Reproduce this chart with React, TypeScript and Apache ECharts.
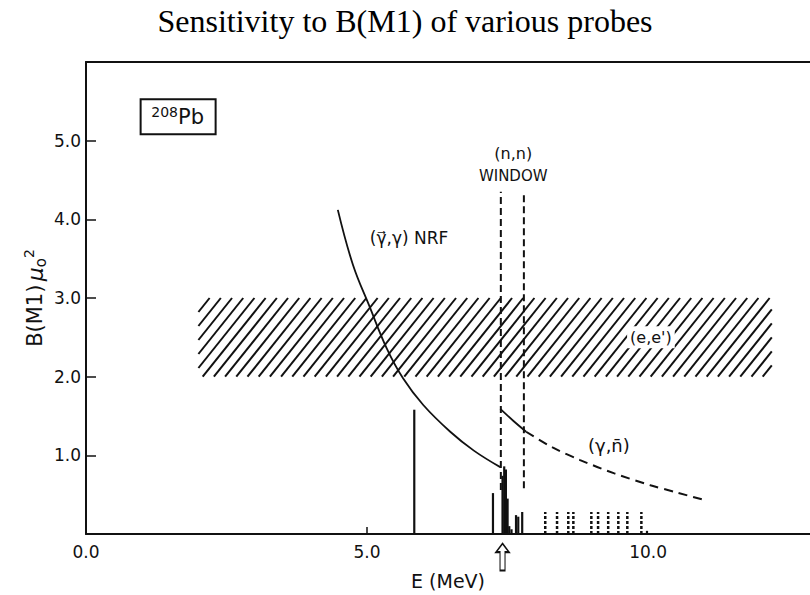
import React, { useEffect, useRef } from "react";
import * as echarts from "echarts";

// (gamma-vec, gamma) NRF sensitivity curve
const nrfEnergy = [4.48, 4.75, 5.04, 5.35, 5.64, 6.0, 6.48, 6.9, 7.37];
const nrfB = [4.12, 3.42, 2.9, 2.36, 1.98, 1.64, 1.3, 1.06, 0.85];

// (gamma, n-bar) curve: solid inside the window, dashed beyond it
const gnSolidEnergy = [7.37, 7.6, 7.83];
const gnSolidB = [1.59, 1.44, 1.3];
const gnDashEnergy = [7.83, 8.3, 8.79, 9.4, 10.04, 10.5, 11.01];
const gnDashB = [1.3, 1.1, 0.94, 0.77, 0.62, 0.53, 0.43];

// (n,n) window edges
const windowEnergy = [7.38, 7.79];
const windowTop = 4.35;
const windowBottom = [0.56, 0.58];

// (e,e') sensitivity band
const bandEnergy = [2.0, 12.2];
const bandB = [2.0, 3.0];

// observed M1 strengths (solid stems)
const stemEnergy = [5.84, 7.24, 7.41, 7.44, 7.47, 7.5, 7.53, 7.57, 7.65, 7.69, 7.76, 9.98];
const stemB = [1.58, 0.52, 0.74, 0.86, 0.82, 0.45, 0.1, 0.06, 0.24, 0.22, 0.28, 0.04];

// unresolved strengths (dashed stems)
const dashStemEnergy = [8.17, 8.38, 8.58, 8.67, 8.99, 9.11, 9.29, 9.47, 9.63, 9.88];
const dashStemB = [0.28, 0.28, 0.28, 0.28, 0.28, 0.28, 0.28, 0.28, 0.28, 0.28];

// axis ticks
const xTickLabels = [0, 5, 10];
const xTicks = [5];
const yTicks = [1, 2, 3, 4, 5];

const neutron = 7.41; // neutron separation energy marker

const INK = "#111";
const SANS = "DejaVu Sans";

const pairs = (xs: number[], ys: number[]) => xs.map((x, i) => [x, ys[i]]);

function hatchItem(params: any, api: any) {
  const pBL = api.coord([api.value(0), api.value(2)]);
  const pTR = api.coord([api.value(1), api.value(3)]);
  const xL = pBL[0];
  const xR = pTR[0];
  const yB = pBL[1];
  const yT = pTR[1];
  const h = yB - yT;
  const run = 0.8;
  const step = 11.2;
  const children: any[] = [];
  for (let c = xL - h * run; c < xR; c += step) {
    let xa = c;
    let ya = yB;
    let xb = c + h * run;
    let yb = yT;
    if (xa < xL) {
      ya = yB - (xL - c) / run;
      xa = xL;
    }
    if (xb > xR) {
      yb = yB - (xR - c) / run;
      xb = xR;
    }
    if (xb <= xa) continue;
    children.push({
      type: "line",
      shape: { x1: xa, y1: ya, x2: xb, y2: yb },
      style: { stroke: INK, lineWidth: 2 },
    });
  }
  return { type: "group", children };
}

const stemItem = (dash: number[] | null, width: number) => (params: any, api: any) => {
  const base = api.coord([api.value(0), 0]);
  const top = api.coord([api.value(0), api.value(1)]);
  return {
    type: "line",
    shape: { x1: base[0], y1: base[1], x2: top[0], y2: top[1] },
    style: { stroke: INK, lineWidth: width, lineDash: dash || undefined },
  };
};

export default function App() {
  const ref = useRef<HTMLDivElement>(null);

  useEffect(() => {
    if (!ref.current) return;
    const chart = echarts.init(ref.current, null, { renderer: "svg" });

    const axisCommon = {
      type: "value" as const,
      min: 0,
      max: 12.88,
      splitLine: { show: false },
    };

    chart.setOption({
      animation: false,
      backgroundColor: "#fff",
      title: {
        text: "Sensitivity to B(M1) of various probes",
        left: "center",
        top: 0,
        textStyle: {
          fontFamily: "Liberation Serif",
          fontSize: 32,
          fontWeight: "normal",
          color: "#000",
        },
      },
      grid: { left: 86, right: 0, top: 62, bottom: 61 },
      xAxis: [
        {
          ...axisCommon,
          position: "bottom",
          name: "E (MeV)",
          nameLocation: "middle",
          nameGap: 37,
          nameTextStyle: { fontFamily: SANS, fontSize: 19, color: INK },
          axisLine: { show: true, onZero: false, lineStyle: { color: INK, width: 2 } },
          axisTick: { show: true, inside: true, length: 7, customValues: xTicks, lineStyle: { color: INK, width: 1.5 } },
          axisLabel: {
            customValues: xTickLabels,
            formatter: (v: number) => v.toFixed(1),
            margin: 9,
            fontFamily: SANS,
            fontSize: 17,
            color: INK,
          },
        },
        {
          ...axisCommon,
          position: "top",
          axisLine: { show: true, onZero: false, lineStyle: { color: INK, width: 2 } },
          axisTick: { show: false },
          axisLabel: { show: false },
        },
      ],
      yAxis: {
        type: "value",
        min: 0,
        max: 6,
        splitLine: { show: false },
        axisLine: { show: true, onZero: false, lineStyle: { color: INK, width: 2 } },
        axisTick: { show: true, inside: true, length: 10, customValues: yTicks, lineStyle: { color: INK, width: 1.5 } },
        axisLabel: {
          customValues: yTicks,
          formatter: (v: number) => v.toFixed(1),
          margin: 5,
          fontFamily: SANS,
          fontSize: 17,
          color: INK,
        },
      },
      series: [
        {
          type: "line",
          name: "NRF",
          data: pairs(nrfEnergy, nrfB),
          smooth: 0.4,
          symbol: "none",
          z: 5,
          lineStyle: { color: INK, width: 1.8 },
        },
        {
          type: "custom",
          name: "(e,e')",
          renderItem: hatchItem,
          encode: { x: [0, 1], y: [2, 3] },
          data: [[bandEnergy[0], bandEnergy[1], bandB[0], bandB[1]]],
          z: 1,
        },
        {
          type: "line",
          name: "(γ,n) solid",
          data: pairs(gnSolidEnergy, gnSolidB),
          smooth: 0.3,
          symbol: "none",
          z: 5,
          lineStyle: { color: INK, width: 1.8 },
        },
        {
          type: "line",
          name: "(γ,n) dashed",
          data: pairs(gnDashEnergy, gnDashB),
          smooth: 0.3,
          symbol: "none",
          z: 5,
          lineStyle: { color: INK, width: 2, type: [9, 6] },
        },
        ...windowEnergy.map((e, i) => ({
          type: "line",
          name: "window " + i,
          data: [
            [e, windowBottom[i]],
            [e, windowTop],
          ],
          symbol: "none",
          z: 5,
          lineStyle: { color: INK, width: 2, type: [7, 4] },
          markPoint:
            i === 0
              ? {
                  silent: true,
                  label: { show: false },
                  data: [
                    {
                      coord: [neutron, 0],
                      symbol: "path://M6.5,0 L13,9 L9,9 L9,28 L4,28 L4,9 L0,9 Z",
                      symbolSize: [13, 27],
                      symbolOffset: [0, 23],
                      itemStyle: { color: "#fff", borderColor: INK, borderWidth: 1.5 },
                    },
                  ],
                }
              : undefined,
        })),
        {
          type: "custom",
          name: "stems",
          renderItem: stemItem(null, 2.2),
          encode: { x: 0, y: 1 },
          data: pairs(stemEnergy, stemB),
          z: 4,
        },
        {
          type: "custom",
          name: "dashed stems",
          renderItem: stemItem([3, 2], 2.5),
          encode: { x: 0, y: 1 },
          data: pairs(dashStemEnergy, dashStemB),
          z: 4,
        },
      ],
    });

    const px = (e: number, b: number) => chart.convertToPixel({ seriesIndex: 0 }, [e, b]) as number[];
    const txt = (pos: number[], text: string, extra: any = {}) => ({
      type: "text",
      x: pos[0],
      y: pos[1],
      z: 100,
      style: {
        text,
        fontFamily: SANS,
        fontSize: 16,
        fill: INK,
        align: "center",
        verticalAlign: "middle",
        ...extra,
      },
    });

    const pb = px(1.63, 5.31);
    chart.setOption({
      graphic: [
        txt(px(5.05, 3.76), "(γ\u20D7,γ) NRF", { align: "left", fontSize: 17 }),
        txt(px(7.6, 4.84), "(n,n)", { fontSize: 16 }),
        txt(px(7.6, 4.55), "WINDOW", { fontSize: 15 }),
        txt(px(8.93, 1.13), "(γ,n\u0304)", { align: "left", fontSize: 18 }),
        txt(px(10.05, 2.5), "(e,e')", {
          fontSize: 16,
          backgroundColor: "#fff",
          padding: [3, 3],
        }),
        {
          type: "rect",
          z: 100,
          shape: { x: pb[0] - 37, y: pb[1] - 17, width: 75, height: 35 },
          style: { fill: "#fff", stroke: INK, lineWidth: 2 },
        },
        {
          type: "text",
          x: pb[0],
          y: pb[1] + 1,
          z: 101,
          style: {
            text: "{s|208}{p|Pb}",
            align: "center",
            verticalAlign: "middle",
            fill: INK,
            rich: {
              s: { fontFamily: SANS, fontSize: 14, fill: INK, verticalAlign: "top", lineHeight: 24 },
              p: { fontFamily: SANS, fontSize: 21, fill: INK, lineHeight: 24 },
            },
          },
        },
        {
          type: "text",
          x: 35,
          y: 298,
          rotation: Math.PI / 2,
          z: 100,
          style: {
            text: "{m|B(M1)} {u|μ}{o|o}{t|2}",
            align: "center",
            verticalAlign: "middle",
            fill: INK,
            rich: {
              m: { fontFamily: SANS, fontSize: 21, fill: INK, lineHeight: 26 },
              u: { fontFamily: SANS, fontSize: 22, fontStyle: "italic", fill: INK, lineHeight: 26 },
              o: { fontFamily: SANS, fontSize: 15, fill: INK, verticalAlign: "bottom", lineHeight: 26 },
              t: { fontFamily: SANS, fontSize: 14, fill: INK, verticalAlign: "top", lineHeight: 26 },
            },
          },
        },
      ],
    });

    return () => chart.dispose();
  }, []);

  return (
    <div
      ref={ref}
      style={{ position: "fixed", left: 0, top: 0, width: 810, height: 595, background: "#fff" }}
    />
  );
}
